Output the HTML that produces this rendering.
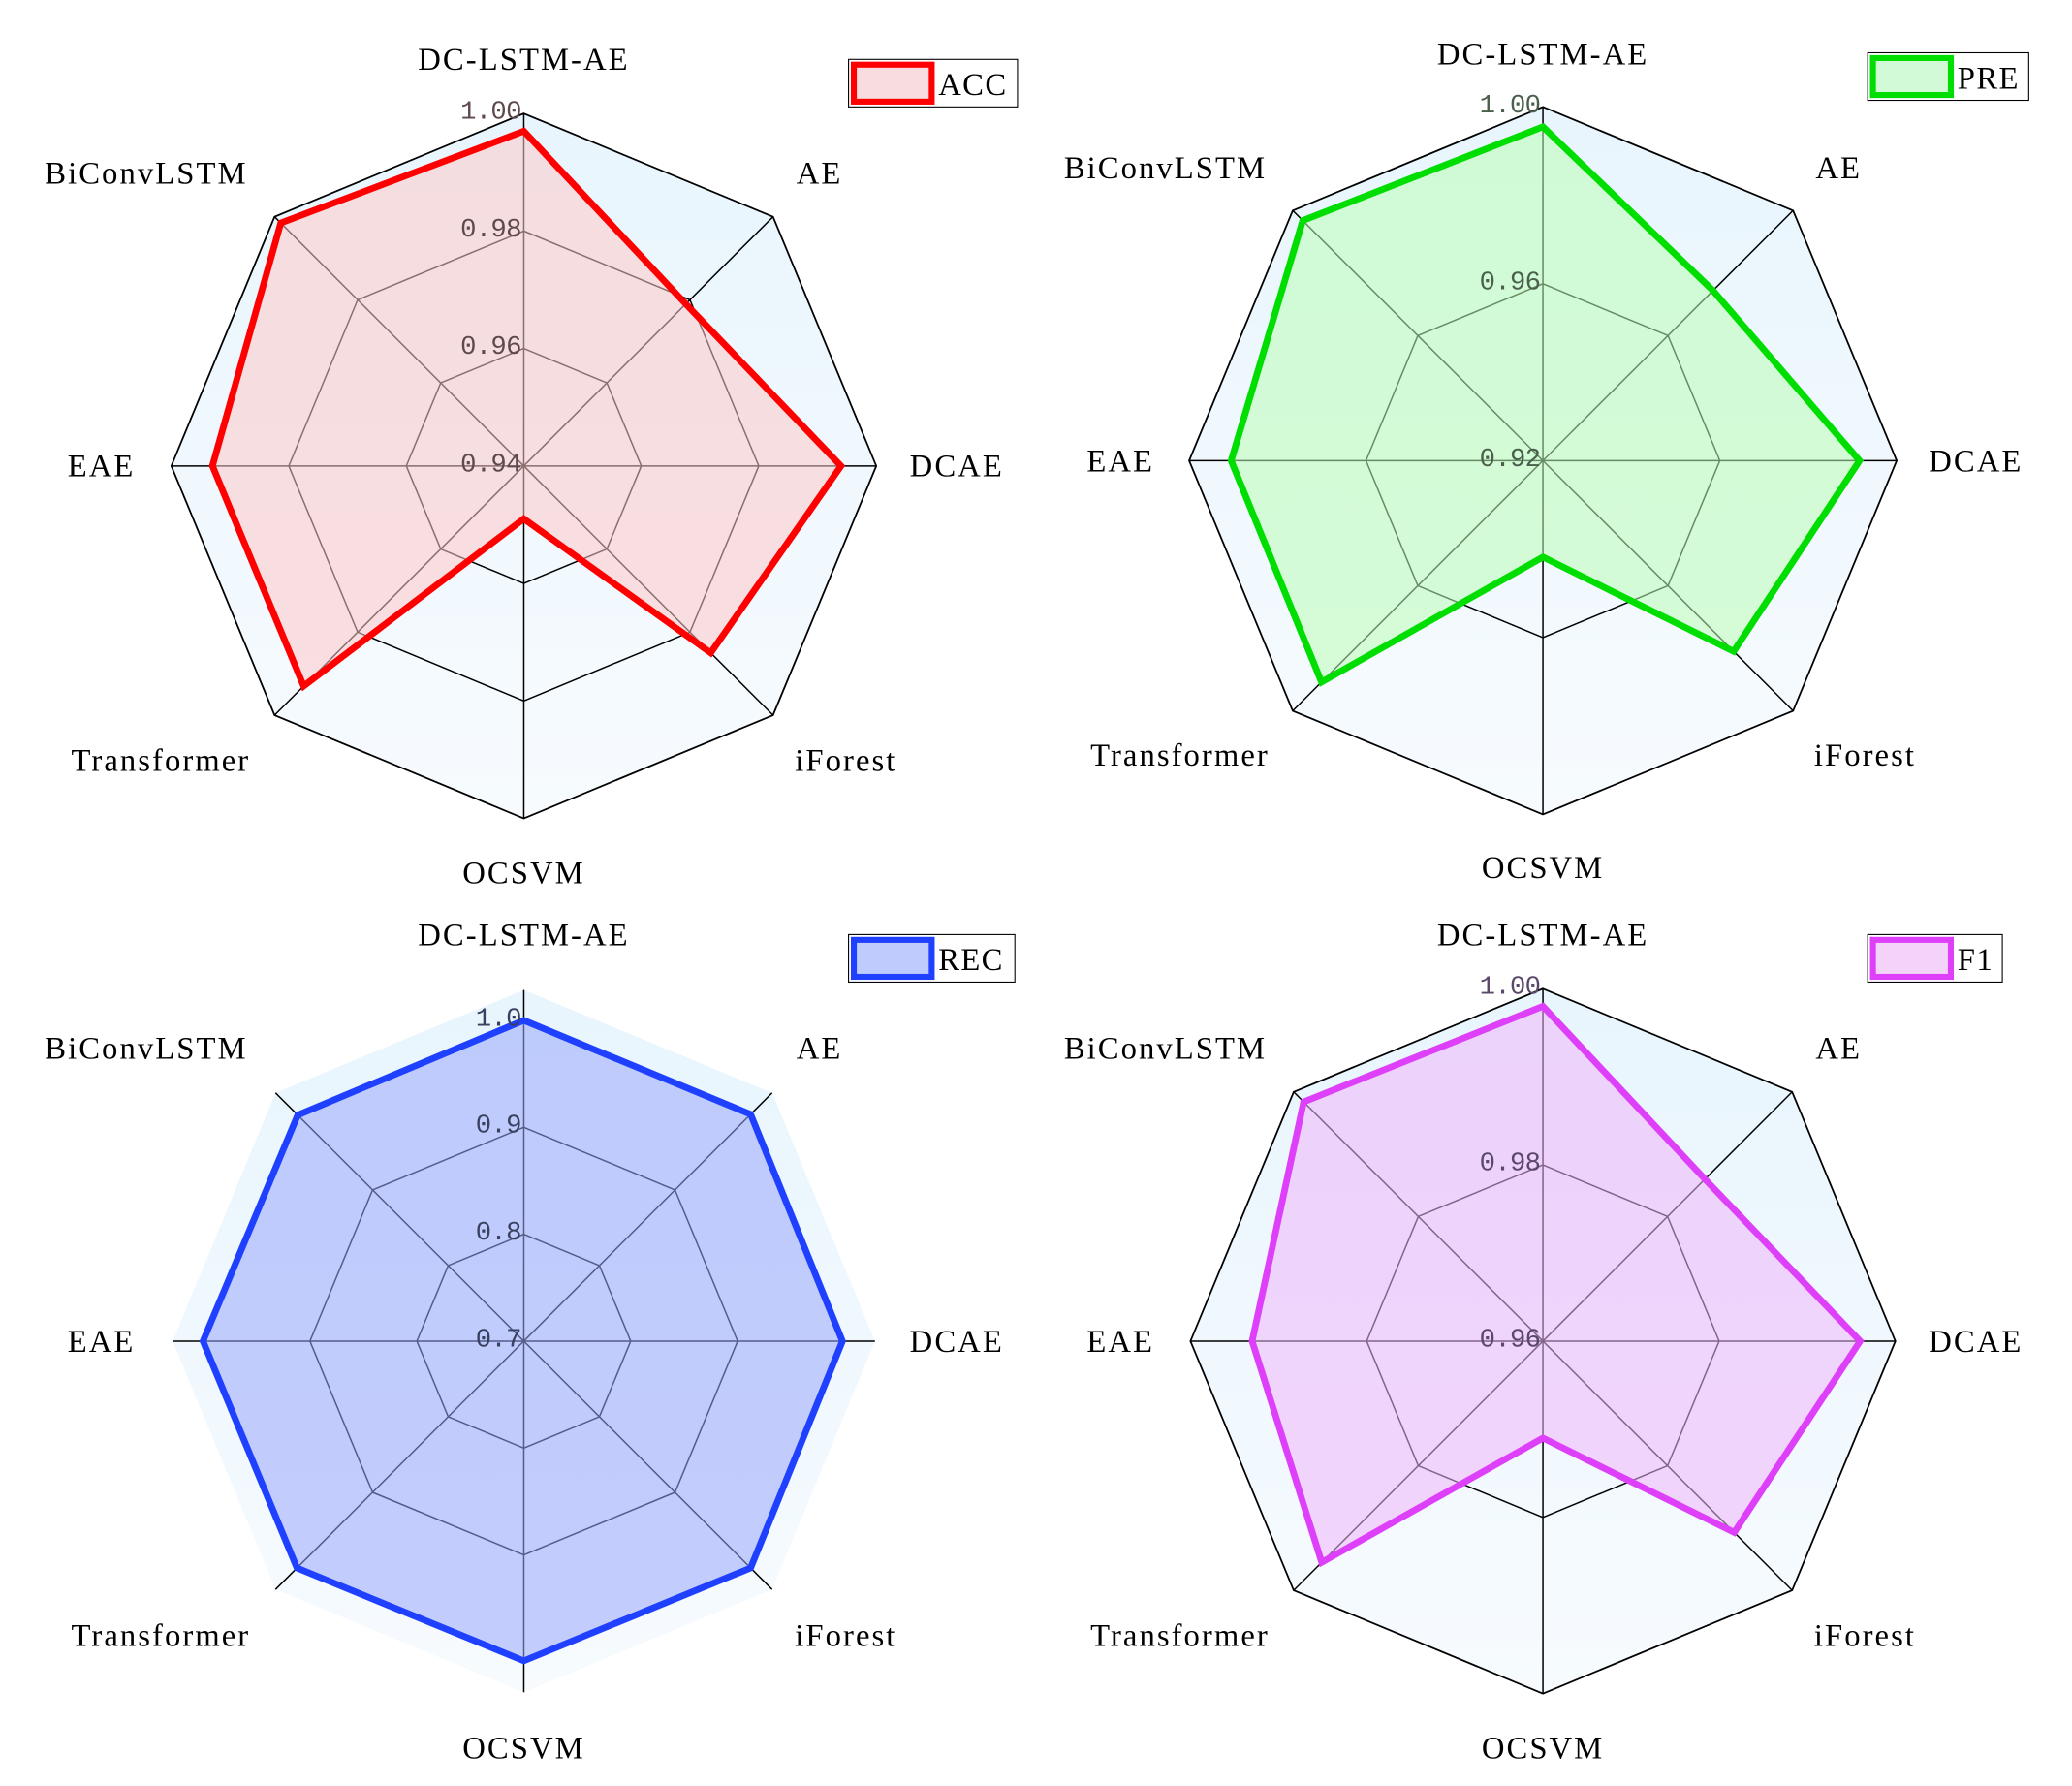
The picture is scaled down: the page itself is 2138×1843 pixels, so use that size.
<!DOCTYPE html>
<html><head><meta charset="utf-8"><style>
html,body{margin:0;padding:0;background:#fff;}
svg{display:block;}
text{font-family:"Liberation Serif",serif;}
</style></head><body>
<svg id="root" width="2138" height="1843" viewBox="0 0 1568 1353" xmlns="http://www.w3.org/2000/svg">
<defs>
<linearGradient id="bgGrad" x1="0" y1="0" x2="0" y2="1">
<stop offset="0" stop-color="#e8f5fd"/><stop offset="1" stop-color="#f7fbfe"/>
</linearGradient>
</defs>
</svg>
<script>
const categories = ["DC-LSTM-AE","AE","DCAE","iForest","OCSVM","Transformer","EAE","BiConvLSTM"];
const accValues = [0.997, 0.979, 0.994, 0.985, 0.949, 0.993, 0.993, 0.9985];
const preValues = [0.9955, 0.9744, 0.9916, 0.981, 0.9418, 0.9908, 0.9905, 0.9968];
const recValues = [1.0, 1.0, 0.998, 1.0, 0.999, 1.0, 1.0, 0.999];
const f1Values = [0.998, 0.986, 0.996, 0.9907, 0.971, 0.9955, 0.993, 0.9984];
const accTicks = [0.94, 0.96, 0.98, 1.00];
const preTicks = [0.92, 0.96, 1.00];
const recTicks = [0.7, 0.8, 0.9, 1.0];
const f1Ticks = [0.96, 0.98, 1.00];
const accTickLabels = ["0.94","0.96","0.98","1.00"];
const preTickLabels = ["0.92","0.96","1.00"];
const recTickLabels = ["0.7","0.8","0.9","1.0"];
const f1TickLabels = ["0.96","0.98","1.00"];

const NS = "http://www.w3.org/2000/svg";
const root = document.getElementById("root");
function mk(tag, attrs, parent){
  const e = document.createElementNS(NS, tag);
  for (const k in attrs) e.setAttribute(k, attrs[k]);
  (parent||root).appendChild(e);
  return e;
}
const labelOff = [[0,-308],[224,-222],[328,0],[244,223],[0,308],[-275,223],[-320,0],[-286,-222]];

function radar(cfg){
  const g = mk("g", {});
  
  
  const cx = cfg.cx, cy = cfg.cy, R = cfg.R;
  const rScale = v => (v - cfg.min) / (cfg.max - cfg.min) * R;
  const ang = i => -Math.PI/2 + i * Math.PI/4;
  const pt = (i, r) => [cx + r*Math.cos(ang(i)), cy + r*Math.sin(ang(i))];
  const poly = r => categories.map((c,i)=>pt(i,r).join(",")).join(" ");
  const bgR = cfg.bgR || R;
  const bg = mk("polygon", {points: poly(bgR), fill: "url(#bgGrad)", stroke: cfg.outline ? "#000" : "none", "stroke-width": 1.3}, g);
  
  
  cfg.ticks.forEach((t) => {
    const r = rScale(t);
    if (r <= 0.5 || (cfg.outline && Math.abs(r - R) < 1)) return;
    const ring = mk("polygon", {points: poly(r), fill: "none", stroke: "#000", "stroke-width": 1.1}, g);
    
    
  });
  categories.forEach((c,i) => {
    const p = pt(i, bgR);
    const sp = mk("line", {x1: cx, y1: cy, x2: p[0], y2: p[1], stroke: "#000", "stroke-width": 1.1}, g);
    
    
  });
  const dpts = cfg.values.map((v,i)=>pt(i, rScale(v)).join(",")).join(" ");
  const area = mk("polygon", {points: dpts, fill: cfg.fill, "fill-opacity": 0.55, stroke: "none"}, g);
  
  
  const line = mk("polygon", {points: dpts, fill: "none", stroke: cfg.color, "stroke-width": 5, "stroke-linejoin": "miter"}, g);
  
  
  cfg.ticks.forEach((t, k) => {
    const r = rScale(t);
    const tl = mk("text", {x: cx - 2, y: cy - r + 4, "text-anchor": "end", "font-size": 20, fill: cfg.tickColor, style: "font-family:'Liberation Mono',monospace;letter-spacing:-0.5px"}, g);
    tl.textContent = cfg.tickLabels[k];
    
    
  });
  categories.forEach((c,i) => {
    const t = mk("text", {x: cx + labelOff[i][0], y: cy + labelOff[i][1] + 8, "text-anchor": "middle", "font-size": 24, fill: "#000", style: "letter-spacing:1.5px"}, g);
    t.textContent = c;
    
    
  });
  const lg = mk("g", {}, g);
  
  
  const L = cfg.legend;
  const lb = mk("rect", {x: L[0], y: L[1], width: L[2], height: 36, fill: "#fff", stroke: "#000", "stroke-width": 0.8}, lg);
  
  
  const sw = mk("rect", {x: L[0]+4, y: L[1]+4, width: 59, height: 28, fill: cfg.swatch, stroke: cfg.color, "stroke-width": 4.5}, lg);
  
  
  const lt = mk("text", {x: L[0]+68, y: L[1]+27, "font-size": 24, fill: "#000", style: "letter-spacing:1px"}, lg);
  lt.textContent = cfg.label;
  
  
}

radar({name:"acc", label:"ACC", cx:396, cy:353, R:267, min:0.94, max:1.00, values:accValues, ticks:accTicks, tickLabels:accTickLabels, color:"#ff0000", fill:"#fec8c8", swatch:"#f8dde0", tickColor:"#5e4a4c", outline:true, legend:[642,45,128]});
radar({name:"pre", label:"PRE", cx:1168, cy:349, R:268, min:0.92, max:1.00, values:preValues, ticks:preTicks, tickLabels:preTickLabels, color:"#00dd00", fill:"#bbfdb6", swatch:"#d2fad6", tickColor:"#4a604c", outline:true, legend:[1414,40,122]});
radar({name:"rec", label:"REC", cx:396, cy:1016, R:243, bgR:266, min:0.7, max:1.0, values:recValues, ticks:recTicks, tickLabels:recTickLabels, color:"#2040ff", fill:"#99a7fb", swatch:"#bfcbfc", tickColor:"#3a4060", outline:false, legend:[642,708,126]});
radar({name:"f1", label:"F1", cx:1168, cy:1016, R:267, min:0.96, max:1.00, values:f1Values, ticks:f1Ticks, tickLabels:f1TickLabels, color:"#dd40f8", fill:"#eeb6f9", swatch:"#f4d3fb", tickColor:"#5a4868", outline:true, legend:[1414,708,102]});
</script>
</body></html>
